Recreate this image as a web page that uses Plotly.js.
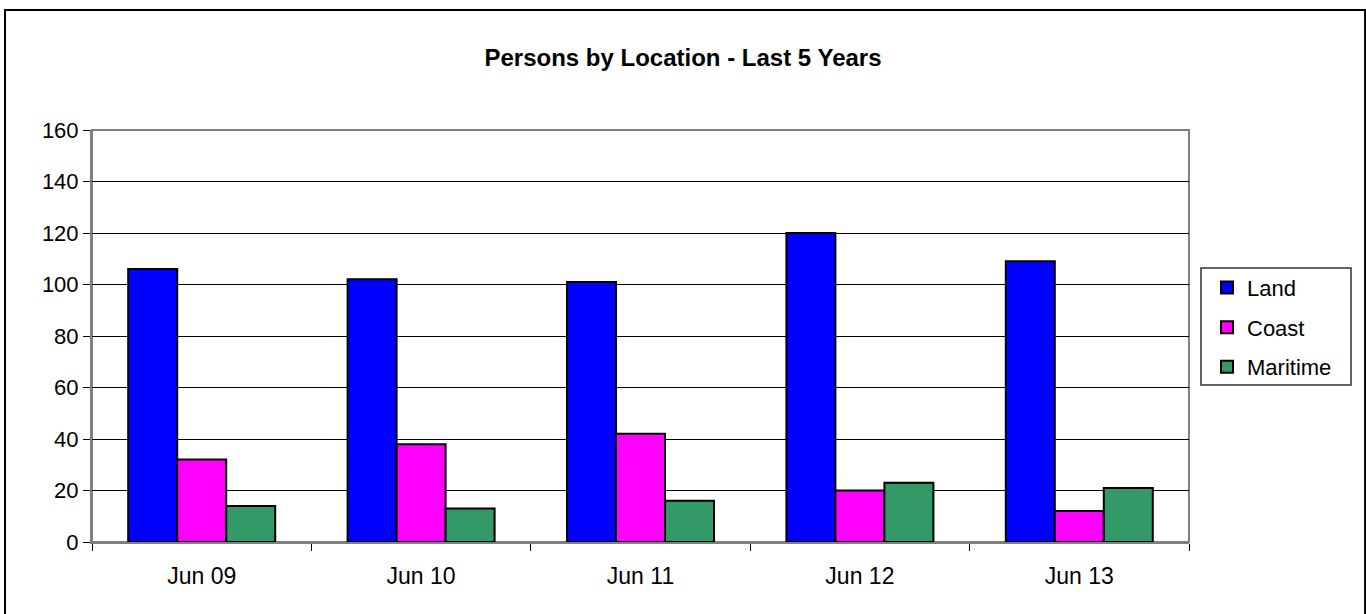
<!DOCTYPE html>
<html>
<head>
<meta charset="utf-8">
<script src="https://cdn.plot.ly/plotly-3.0.1.min.js"></script>
<style>html,body{margin:0;padding:0;background:#fff;}#chart{width:1366px;height:614px;}</style>
</head>
<body>
<div id="chart"></div>
<script>
const categories = ["Jun 09", "Jun 10", "Jun 11", "Jun 12", "Jun 13"];
const land = [106, 102, 101, 120, 109];
const coast = [32, 38, 42, 20, 12];
const maritime = [14, 13, 16, 23, 21];
const yTicks = [0, 20, 40, 60, 80, 100, 120, 140, 160];

const font = "Liberation Sans, Arial, sans-serif";
function mk(name, vals, color) {
  return {
    type: "bar", name: name, x: categories, y: vals, legendgroup: name,
    marker: {color: color, line: {color: "#000000", width: 2}}
  };
}
const data = [
  mk("Land", land, "#0000FF"),
  mk("Coast", coast, "#FF00FF"),
  mk("Maritime", maritime, "#339966")
];
const layout = {
  width: 1366, height: 614,
  margin: {l: 92, r: 177, t: 130, b: 72},
  paper_bgcolor: "#ffffff", plot_bgcolor: "#ffffff",
  font: {family: font, color: "#000000", size: 22},
  title: {text: "<b>Persons by Location - Last 5 Years</b>", font: {family: font, size: 24, color: "#000"}, x: 0.5, xanchor: "center", y: 0.907, yanchor: "middle"},
  barmode: "group", bargap: 0.33, bargroupgap: 0,
  showlegend: true,
  legend: {x: (1207 - 92) / 1097, xanchor: "left", y: 0.668, yanchor: "top", borderwidth: 0,
    font: {family: font, size: 22, color: "#000"}, tracegroupgap: 8, traceorder: "grouped", bgcolor: "rgba(0,0,0,0)"},
  xaxis: {type: "category", showline: true, linecolor: "#808080", linewidth: 2, ticks: "outside", tickson: "boundaries",
    ticklen: 7, tickcolor: "#000", tickwidth: 1, showgrid: false, tickfont: {size: 23}, fixedrange: true, ticklabelstandoff: 12},
  yaxis: {range: [0, 160], tickvals: yTicks, showline: true, linecolor: "#808080", linewidth: 2, ticks: "outside", ticklen: 7,
    tickcolor: "#000", showgrid: true, gridcolor: "#000000", gridwidth: 1, zeroline: false, tickfont: {size: 22}, fixedrange: true},
  shapes: [
    {type: "rect", xref: "paper", yref: "paper", x0: 0, x1: 1, y0: 0, y1: 1, line: {color: "#808080", width: 2}, layer: "below"},
    {type: "rect", xref: "paper", yref: "paper", x0: -0.0793, x1: 1.1605, y0: -0.2, y1: 1.2913, line: {color: "#000000", width: 2}},
    {type: "rect", xref: "paper", yref: "paper", x0: (1201 - 92) / 1097, x1: (1351 - 92) / 1097, y0: (542 - 385) / 412, y1: (542 - 268) / 412, line: {color: "#333333", width: 1.5}}
  ]
};
Plotly.newPlot("chart", data, layout, {displayModeBar: false, staticPlot: true});
</script>
</body>
</html>
